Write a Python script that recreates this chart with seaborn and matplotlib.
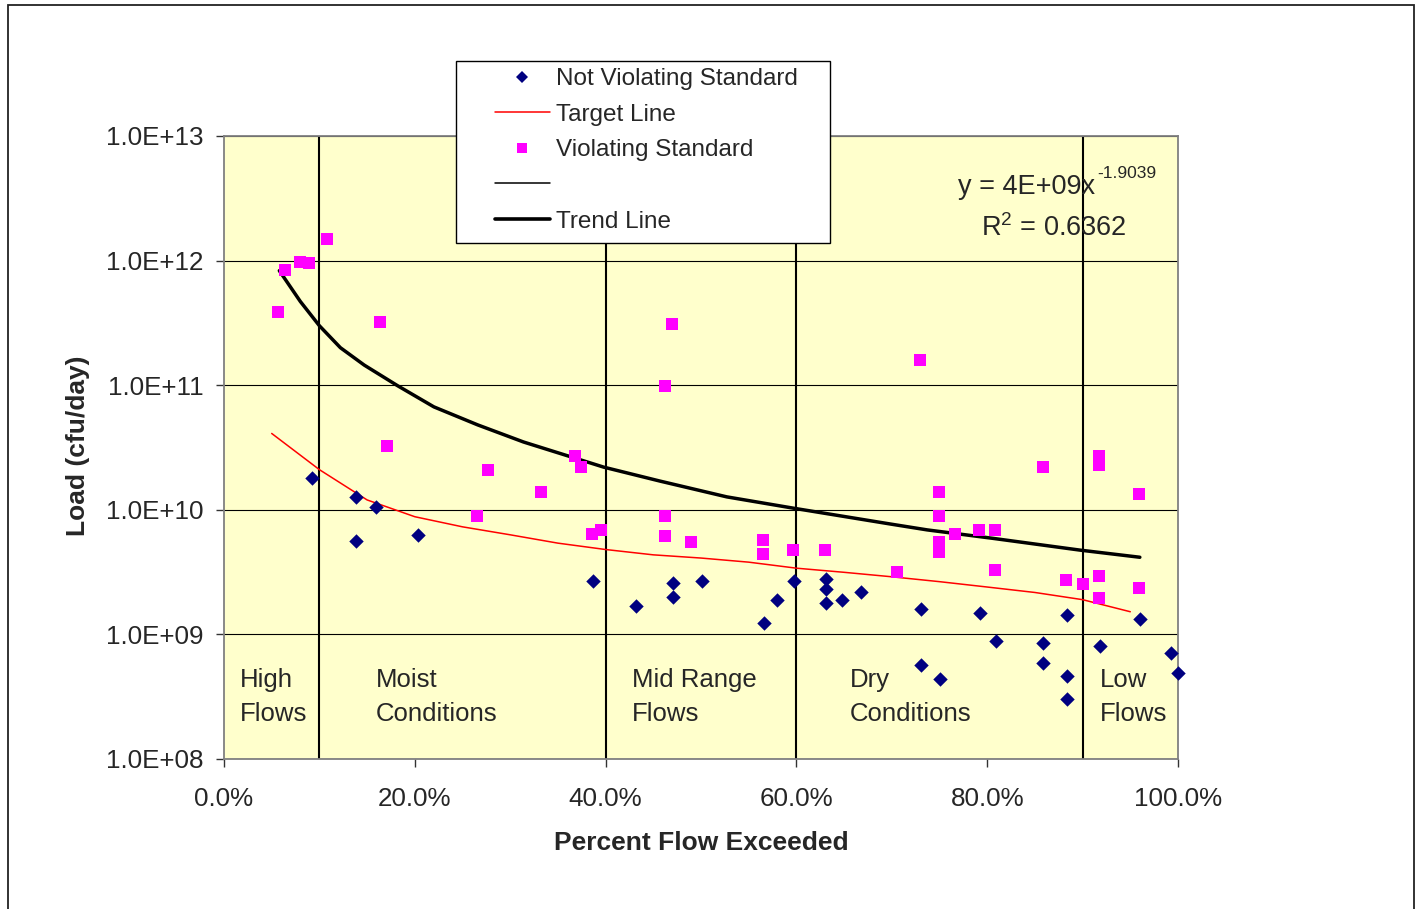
import numpy as np
import seaborn as sns
import matplotlib.pyplot as plt
from matplotlib.lines import Line2D
from matplotlib.patches import Rectangle
from matplotlib.ticker import FixedLocator, FixedFormatter

# --- data ---
# Violating Standard (magenta squares): percent flow exceeded, load (cfu/day)
viol_x = [5.7, 6.4, 8.0, 8.9, 10.8, 16.4, 17.1, 26.5, 27.7, 33.2, 36.8, 37.4, 38.6, 39.5,
          46.2, 46.2, 46.2, 47.0, 48.9, 56.5, 56.5, 59.6, 63.0, 70.5, 73.0,
          74.9, 74.9, 74.9, 74.9, 76.6, 79.1, 80.8, 80.8, 85.8, 88.3, 90.0,
          91.7, 91.7, 91.7, 91.7, 95.9, 95.9]
viol_y = [3.9e11, 8.4e11, 9.8e11, 9.5e11, 1.5e12, 3.2e11, 3.25e10, 8.9e9, 2.1e10, 1.4e10, 2.7e10, 2.2e10, 6.4e9, 6.9e9,
          9.9e10, 8.9e9, 6.2e9, 3.1e11, 5.5e9, 5.7e9, 4.4e9, 4.75e9, 4.75e9, 3.15e9, 1.6e11,
          1.4e10, 8.9e9, 5.5e9, 4.6e9, 6.4e9, 6.9e9, 6.9e9, 3.3e9, 2.2e10, 2.75e9, 2.55e9,
          2.7e10, 2.3e10, 2.95e9, 1.95e9, 1.35e10, 2.35e9]

# Not Violating Standard (navy diamonds)
ok_x = [9.2, 13.8, 13.8, 15.9, 20.3, 38.7, 43.2, 47.1, 47.1, 50.1, 56.6, 58.0, 59.8,
        63.1, 63.1, 63.1, 64.8, 66.8, 73.1, 73.1, 75.0, 79.2, 80.9, 85.9, 85.9,
        88.4, 88.4, 88.4, 91.8, 96.0, 99.3, 100.0]
ok_y = [1.8e10, 1.26e10, 5.6e9, 1.05e10, 6.3e9, 2.7e9, 1.7e9, 2.6e9, 2.0e9, 2.7e9, 1.23e9, 1.9e9, 2.7e9,
        2.8e9, 2.3e9, 1.8e9, 1.9e9, 2.2e9, 1.6e9, 5.7e8, 4.4e8, 1.48e9, 8.9e8, 8.6e8, 5.9e8,
        1.43e9, 4.6e8, 3.05e8, 8.0e8, 1.33e9, 7.1e8, 4.9e8]

# Target Line (red)
target_x = [5, 10, 15, 20, 25, 30, 35, 40, 45, 50, 55, 60, 65, 70, 75, 80, 85, 90, 95]
target_y = [4.1e10, 2.1e10, 1.2e10, 8.8e9, 7.3e9, 6.3e9, 5.4e9, 4.8e9, 4.35e9, 4.1e9,
            3.8e9, 3.4e9, 3.15e9, 2.9e9, 2.65e9, 2.4e9, 2.17e9, 1.9e9, 1.52e9]

# Trend Line (thick black)
trend_x = [5.8, 8.0, 10.0, 12.2, 14.7, 18.2, 22.0, 26.6, 31.4, 36.3, 39.8,
           45.7, 52.7, 59.7, 69.8, 73.7, 80.6, 89.7, 96.0]
trend_y = [8.3e11, 4.7e11, 3.0e11, 2.0e11, 1.45e11, 9.9e10, 6.7e10, 4.8e10, 3.5e10, 2.67e10, 2.2e10,
           1.7e10, 1.27e10, 1.03e10, 7.7e9, 6.9e9, 5.9e9, 4.75e9, 4.16e9]

zone_bounds = [10, 40, 60, 90]
zone_labels = ["High\nFlows", "Moist\nConditions", "Mid Range\nFlows", "Dry\nConditions", "Low\nFlows"]
zone_label_x = [1.7, 15.9, 42.8, 65.6, 91.8]

y_ticks = [1e8, 1e9, 1e10, 1e11, 1e12, 1e13]
y_tick_labels = ["1.0E+08", "1.0E+09", "1.0E+10", "1.0E+11", "1.0E+12", "1.0E+13"]
x_ticks = [0, 20, 40, 60, 80, 100]
x_tick_labels = ["0.0%", "20.0%", "40.0%", "60.0%", "80.0%", "100.0%"]

sns.set_style("white")
plt.rcParams['font.family'] = ['Liberation Sans', 'DejaVu Sans']
plt.rcParams['mathtext.fontset'] = 'custom'
plt.rcParams['mathtext.rm'] = 'Liberation Sans'

W, H = 1421, 909
fs = 17.5
fig = plt.figure(figsize=(W / 100, H / 100), dpi=100)
ax = fig.add_axes([224 / W, 1 - 759 / H, 954 / W, 623 / H])
ax.set_facecolor('#FFFFCC')
ax.set_yscale('log')


def ax_frac(px, py):
    # reference pixel -> axes fraction
    return (px - 224) / 954, (759 - py) / 623


# grid + zone dividers
for yt in y_ticks:
    ax.axhline(yt, color='black', lw=0.8, zorder=1)
for xb in zone_bounds:
    ax.axvline(xb, color='black', lw=1.5, zorder=1)

sns.lineplot(x=target_x, y=target_y, color='#FF0000', lw=1.1, estimator=None, sort=False, ax=ax, zorder=3)
sns.lineplot(x=trend_x, y=trend_y, color='black', lw=2.5, estimator=None, sort=False, ax=ax, zorder=4)
sns.scatterplot(x=viol_x, y=viol_y, marker='s', color='#FF00FF', s=72, linewidth=0, ax=ax, zorder=5)
sns.scatterplot(x=ok_x, y=ok_y, marker='D', color='#000080', s=54, linewidth=0, ax=ax, zorder=6,
                clip_on=False)

ax.set_xlim(0, 100)
ax.set_ylim(1e8, 1e13)
ax.xaxis.set_major_locator(FixedLocator(x_ticks))
ax.xaxis.set_major_formatter(FixedFormatter(x_tick_labels))
ax.yaxis.set_major_locator(FixedLocator(y_ticks))
ax.yaxis.set_major_formatter(FixedFormatter(y_tick_labels))
ax.yaxis.set_minor_locator(FixedLocator([]))
ax.tick_params(axis='both', which='major', direction='out', length=6, width=1,
               color='#333333', labelsize=18.7, left=True, bottom=True)
ax.tick_params(axis='x', pad=14)
ax.tick_params(axis='y', pad=9)
for sp in ax.spines.values():
    sp.set_color('#808080')
    sp.set_linewidth(1.3)
ax.set_xlabel('')
ax.set_ylabel('')

# zone labels
_, ly = ax_frac(0, 697)
for lab, lx in zip(zone_labels, zone_label_x):
    ax.text(lx / 100, ly, lab, fontsize=18.5, ha='left', va='center', linespacing=1.52,
            transform=ax.transAxes)

# equation text
ex, ey = ax_frac(1095, 194)
ax.text(ex, ey, 'y = 4E+09x', transform=ax.transAxes, fontsize=19.5, ha='right', va='baseline')
ex, ey = ax_frac(1097, 178)
ax.text(ex, ey, '-1.9039', transform=ax.transAxes, fontsize=12.5, ha='left', va='baseline')
ex, ey = ax_frac(1054, 236)
ax.text(ex, ey, r'R$^{\mathregular{2}}$ = 0.6362', transform=ax.transAxes,
        fontsize=19.5, ha='center', va='baseline')

# axis titles
fig.text(701 / W, 1 - 843 / H, 'Percent Flow Exceeded', fontsize=19, fontweight='bold',
         ha='center', va='center')
fig.text(78 / W, 1 - 446 / H, 'Load (cfu/day)', fontsize=19, fontweight='bold',
         ha='center', va='center', rotation=90)

# legend box + legend
fig.add_artist(Rectangle((456 / W, 1 - 243 / H), 374 / W, 182 / H, transform=fig.transFigure,
                         facecolor='white', edgecolor='black', lw=1, zorder=3))
handles = [
    Line2D([], [], marker='D', color='#000080', ls='none', markersize=6.5, markeredgewidth=0),
    Line2D([], [], color='#FF0000', lw=1.1),
    Line2D([], [], marker='s', color='#FF00FF', ls='none', markersize=7.5, markeredgewidth=0),
    Line2D([], [], color='black', lw=1.1),
    Line2D([], [], color='black', lw=2.6),
]
labels = ['Not Violating Standard', 'Target Line', 'Violating Standard', '', 'Trend Line']
leg = fig.legend(handles, labels, loc='upper left', bbox_to_anchor=(495 / W, 1 - 68 / H),
                 bbox_transform=fig.transFigure, frameon=False, borderpad=0, borderaxespad=0,
                 handlelength=2.26, handletextpad=0.25, labelspacing=0.56, fontsize=fs)
leg.set_zorder(4)

# outer chart border
fig.add_artist(Rectangle((8 / W, -0.02), 1406 / W, (H - 5) / H + 0.02, transform=fig.transFigure,
                         fill=False, edgecolor='#222222', lw=1.3, zorder=0))

fig.savefig('out.png', dpi=100)
